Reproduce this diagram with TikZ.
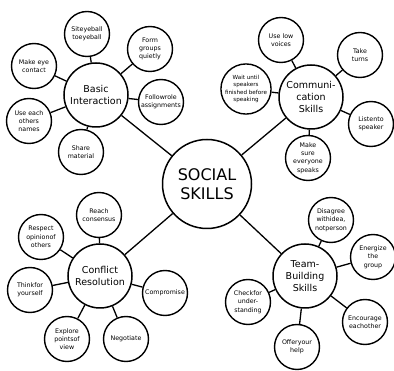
\documentclass[tikz,border=0pt]{standalone}
\usepackage{fontspec}
\setmainfont{DejaVu Sans}
\begin{document}
\begin{tikzpicture}[x=1pt,y=-1pt,
  sat/.style={circle,draw,line width=1.4pt,fill=white,minimum size=45pt,inner sep=0pt,align=center,font=\fontsize{6.3}{8.3}\selectfont},
  hub/.style={circle,draw,line width=1.5pt,fill=white,minimum size=64pt,inner sep=0pt,align=center,font=\fontsize{9.5}{11.7}\selectfont},
  ctr/.style={circle,draw,line width=1.5pt,fill=white,minimum size=89pt,inner sep=0pt,align=center,font=\fontsize{16}{19}\selectfont},
  con/.style={line width=1.3pt}]
\useasboundingbox (0,0) rectangle (394,371);
% center
\node[ctr] (soc) at (207,184) {SOCIAL\\SKILLS};
% hubs
\node[hub] (bi) at (96,95) {Basic\\Interaction};
\node[hub] (cs) at (311,97) {Communi-\\cation\\Skills};
\node[hub] (cr) at (100,276) {Conflict\\Resolution};
\node[hub] (tb) at (305,276) {Team-\\Building\\Skills};
% basic interaction satellites
\node[sat] (b1) at (87,34) {Siteyeball\\toeyeball};
\node[sat] (b2) at (150,49) {Form\\groups\\quietly};
\node[sat] (b3) at (34,66) {Make eye\\contact};
\node[sat] (b4) at (161,102) {Followrole\\assignments};
\node[sat] (b5) at (29,121) {Use each\\others\\names};
\node[sat] (b6) at (81,152) {Share\\material};
% communication satellites
\node[sat] (c1) at (281,40) {Use low\\voices};
\node[sat] (c2) at (360,55) {Take\\turns};
\node[sat,font=\fontsize{5.6}{7.4}\selectfont] (c3) at (246,89) {Wait until\\speakers\\finished before\\speaking};
\node[sat] (c4) at (371,124) {Listento\\speaker};
\node[sat] (c5) at (308,158) {Make\\sure\\everyone\\speaks};
% conflict satellites
\node[sat] (r1) at (99,215) {Reach\\consensus};
\node[sat] (r2) at (41,237) {Respect\\opinionof\\others};
\node[sat] (r3) at (30,290) {Thinkfor\\yourself};
\node[sat] (r4) at (165,293) {Compromise};
\node[sat] (r5) at (67,339) {Explore\\pointsof\\view};
\node[sat] (r6) at (126,339) {Negotiate};
% team satellites
\node[sat] (t1) at (331,220) {Disagree\\withidea,\\notperson};
\node[sat] (t2) at (373,257) {Energize\\the\\group};
\node[sat] (t3) at (248,302) {Checkfor\\under-\\standing};
\node[sat] (t4) at (365,322) {Encourage\\eachother};
\node[sat] (t5) at (297,347) {Offeryour\\help};
% connectors
\foreach \h in {bi,cs,cr,tb} \draw[con] (soc) -- (\h);
\foreach \s in {b1,b2,b3,b4,b5,b6} \draw[con] (bi) -- (\s);
\foreach \s in {c1,c2,c3,c4,c5} \draw[con] (cs) -- (\s);
\foreach \s in {r1,r2,r3,r4,r5,r6} \draw[con] (cr) -- (\s);
\foreach \s in {t1,t2,t3,t4,t5} \draw[con] (tb) -- (\s);
\end{tikzpicture}
\end{document}
